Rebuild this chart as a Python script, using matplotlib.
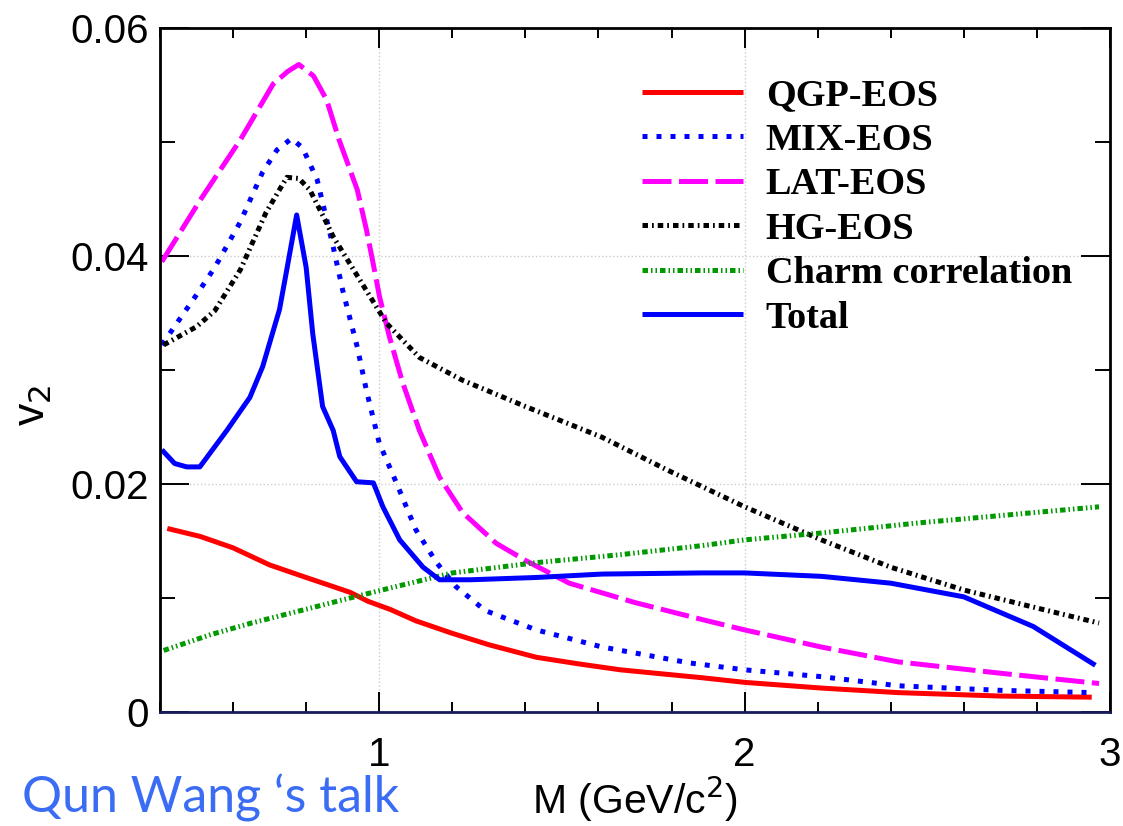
import matplotlib
matplotlib.use("Agg")
import matplotlib.pyplot as plt
from matplotlib.ticker import MultipleLocator

# values
qgp_x = [0.42, 0.51, 0.60, 0.70, 0.80, 0.92, 0.97, 1.03, 1.10, 1.20, 1.30, 1.43, 1.55, 1.66, 1.885, 2.0,
         2.21, 2.42, 2.70, 2.95]
qgp_y = [0.0161, 0.0154, 0.0144, 0.0129, 0.0118, 0.0105, 0.0097, 0.0090, 0.0080, 0.0069, 0.0059, 0.0048,
         0.0042, 0.0037, 0.0030, 0.0026, 0.0021, 0.0017, 0.0014, 0.0013]

mix_x = [0.405, 0.50, 0.55, 0.62, 0.68, 0.72, 0.76, 0.79, 0.83, 0.874, 0.90, 0.94, 0.965, 1.0, 1.047, 1.10,
         1.157, 1.21, 1.29, 1.43, 1.61, 1.85, 2.0, 2.21, 2.42, 2.70, 2.95]
mix_y = [0.0322, 0.0366, 0.0390, 0.0430, 0.0473, 0.0493, 0.0503, 0.0495, 0.0467, 0.0408, 0.0370, 0.0320,
         0.0282, 0.0236, 0.0201, 0.0160, 0.0131, 0.0110, 0.0089, 0.0072, 0.0057, 0.0043, 0.0037, 0.0031,
         0.0023, 0.0019, 0.0017]

lat_x = [0.405, 0.51, 0.62, 0.71, 0.75, 0.78, 0.82, 0.856, 0.89, 0.94, 0.965, 0.983, 1.001, 1.028, 1.064,
         1.11, 1.165, 1.228, 1.32, 1.40, 1.52, 1.70, 1.885, 2.0, 2.21, 2.42, 2.70, 2.97]
lat_y = [0.0395, 0.0449, 0.0502, 0.0551, 0.0562, 0.0568, 0.0558, 0.0537, 0.0502, 0.0458, 0.0423, 0.0394,
         0.0364, 0.0329, 0.0289, 0.0247, 0.0206, 0.0175, 0.0148, 0.0133, 0.0113, 0.0096, 0.0081, 0.0072,
         0.0057, 0.0044, 0.0034, 0.0025]

hg_x = [0.41, 0.50, 0.55, 0.62, 0.69, 0.747, 0.78, 0.81, 0.856, 0.874, 0.947, 1.02, 1.11, 1.228, 1.40,
        1.61, 1.79, 2.0, 2.21, 2.40, 2.60, 2.79, 2.97]
hg_y = [0.0322, 0.0338, 0.0352, 0.0388, 0.0438, 0.0469, 0.0468, 0.0458, 0.0429, 0.0417, 0.0379, 0.0341,
        0.0311, 0.0291, 0.0268, 0.0241, 0.0212, 0.0180, 0.0151, 0.0127, 0.0107, 0.0092, 0.0078]

charm_x = [0.41, 0.54, 0.65, 0.81, 0.92, 1.02, 1.20, 1.43, 1.66, 1.885, 2.0, 2.21, 2.48, 2.97]
charm_y = [0.0054, 0.0068, 0.0078, 0.0091, 0.0100, 0.0108, 0.0122, 0.0131, 0.0138, 0.0146, 0.0151, 0.0157,
           0.0166, 0.0180]

total_x = [0.405, 0.44, 0.473, 0.509, 0.583, 0.646, 0.681, 0.727, 0.747, 0.774, 0.80, 0.818, 0.845, 0.874,
           0.892, 0.938, 0.984, 1.01, 1.056, 1.12, 1.165, 1.25, 1.43, 1.61, 1.885, 2.0, 2.21, 2.40, 2.60,
           2.79, 2.96]
total_y = [0.0230, 0.0218, 0.0215, 0.0215, 0.0247, 0.0276, 0.0303, 0.0353, 0.0388, 0.0436, 0.0390, 0.0332,
           0.0268, 0.0247, 0.0224, 0.0202, 0.0201, 0.0180, 0.0151, 0.0127, 0.0116, 0.0116, 0.0118, 0.0121,
           0.0122, 0.0122, 0.0119, 0.0113, 0.0101, 0.0075, 0.0041]

labels = ["QGP-EOS", "MIX-EOS", "LAT-EOS", "HG-EOS", "Charm correlation", "Total"]

fig = plt.figure(figsize=(11.23, 8.26), dpi=100)
ax = fig.add_axes([160 / 1123, 114 / 826, 950 / 1123, 684 / 826])

lw = 3.6
ax.plot(qgp_x, qgp_y, color="#ff0000", lw=lw, solid_capstyle="butt", label=labels[0])
ax.plot(mix_x, mix_y, color="#0000ff", lw=lw, dashes=(1, 1.8), dash_capstyle="butt", label=labels[1])
ax.plot(lat_x, lat_y, color="#ff00ff", lw=lw, dashes=(5.8, 1.5), dash_capstyle="butt", label=labels[2])
ax.plot(hg_x, hg_y, color="black", lw=lw, dashes=(1.1, 0.8, 0.35, 0.8), dash_capstyle="butt", label=labels[3])
ax.plot(charm_x, charm_y, color="#009900", lw=lw, dashes=(1.1, 0.6, 0.3, 0.6, 0.3, 0.6),
        dash_capstyle="butt", label=labels[4])
ax.plot(total_x, total_y, color="#0000ff", lw=lw, solid_capstyle="butt", solid_joinstyle="round",
        label=labels[5])

ax.set_xlim(0.4, 3.0)
ax.set_ylim(0, 0.06)
ax.xaxis.set_minor_locator(MultipleLocator(0.2))
ax.yaxis.set_minor_locator(MultipleLocator(0.01))
ax.set_xticks([1, 2, 3])
ax.set_xticklabels(["1", "2", "3"])
ax.set_yticks([0, 0.02, 0.04, 0.06])
ax.set_yticklabels(["0", "0.02", "0.04", "0.06"])

ax.grid(True, which="major", color="#cccccc", linestyle=":", lw=1)
ax.tick_params(axis="both", which="both", direction="in", top=True, right=True, width=1.4,
               labelsize=29)
ax.tick_params(axis="x", which="major", length=14.5, pad=17)
ax.tick_params(axis="x", which="minor", length=7.2)
ax.tick_params(axis="y", which="major", length=21, pad=8)
ax.tick_params(axis="y", which="minor", length=10.5)
for lab in ax.get_xticklabels() + ax.get_yticklabels():
    lab.set_family("Liberation Sans")
for s in ax.spines.values():
    s.set_linewidth(2)
ax.spines["bottom"].set_color("#1a1a5e")

ax.set_xlabel("M (GeV/c$^2$)", fontsize=29.5, family="Liberation Sans", va="center")
ax.xaxis.set_label_coords(0.5, (712 - 799) / 684)
ax.set_ylabel("v$_2$", fontsize=32, family="Liberation Sans", va="center")
ax.yaxis.set_label_coords((33 - 160) / 950, (712 - 405) / 684)

leg = ax.legend(loc="upper left", bbox_to_anchor=(642 / 1123, 1 - 78 / 826),
                bbox_transform=fig.transFigure, frameon=False, handlelength=2.64,
                handletextpad=0.6, labelspacing=0.25, borderpad=0, borderaxespad=0,
                prop={"family": "Liberation Serif", "weight": "bold", "size": 27.5})

fig.text(22 / 1123, 1 - 798 / 826, "Qun Wang \u2018s talk", color="#3a6cf4", fontsize=36,
         family="Lato", va="center", ha="left")

fig.savefig("out.png", dpi=100)
